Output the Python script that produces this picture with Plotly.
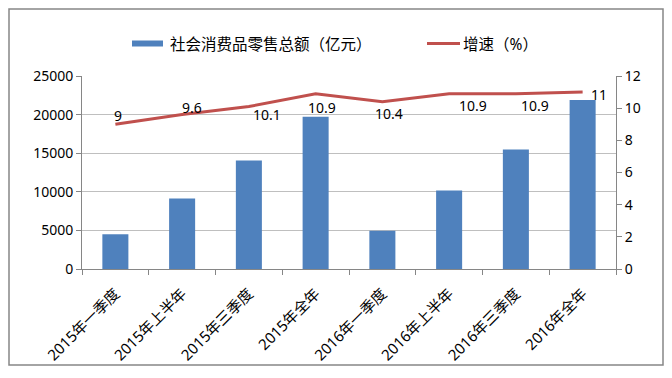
import plotly.graph_objects as go

categories = ["2015年一季度", "2015年上半年", "2015年三季度", "2015年全年",
              "2016年一季度", "2016年上半年", "2016年三季度", "2016年全年"]
sales = [4500, 9140, 14070, 19730, 4970, 10170, 15480, 21880]
growth = [9, 9.6, 10.1, 10.9, 10.4, 10.9, 10.9, 11]
left_ticks = [0, 5000, 10000, 15000, 20000, 25000]
right_ticks = [0, 2, 4, 6, 8, 10, 12]
bar_name = "社会消费品零售总额（亿元）"
line_name = "增速（%）"

# label offsets (px) relative to each point: right, down
label_dx = [3, 10, 18, 6, 7, 24, 19, 16]
label_dy = [-9, -7, 8, 14, 12, 12, 12, 2]

FONT = "Noto Sans, Noto Sans CJK SC, sans-serif"
BAR_C = "#4F81BD"
LINE_C = "#C0504D"
AX_C = "#868686"

W, H = 656, 362
L, R, T, B = 74, 48, 68, 101
pw, ph = W - L - R, H - T - B

def px(x):
    return (x - L) / pw

def py(y):
    return (H - B - y) / ph

fig = go.Figure()
fig.add_trace(go.Bar(x=categories, y=sales, name=bar_name, showlegend=False,
                     marker=dict(color=BAR_C, line=dict(width=0))))
fig.add_trace(go.Scatter(x=categories, y=growth, name=line_name, yaxis="y2",
                         mode="lines", showlegend=False,
                         line=dict(color=LINE_C, width=3)))

annotations = []
for c, g, dx, dy in zip(categories, growth, label_dx, label_dy):
    annotations.append(dict(x=c, y=g, xref="x", yref="y2", text=str(g), showarrow=False,
                            xshift=dx, yshift=-dy, xanchor="center", yanchor="middle",
                            font=dict(size=14, family=FONT, color="#000000")))
# manual legend text
annotations.append(dict(x=px(160), y=py(36), xref="paper", yref="paper", text=bar_name,
                        showarrow=False, xanchor="left", yanchor="middle",
                        font=dict(size=15.5, family=FONT, color="#000000")))
annotations.append(dict(x=px(453), y=py(36), xref="paper", yref="paper", text=line_name,
                        showarrow=False, xanchor="left", yanchor="middle",
                        font=dict(size=15.5, family=FONT, color="#000000")))

shapes = [
    dict(type="rect", xref="paper", yref="paper",
         x0=px(1), x1=px(655), y0=py(357), y1=py(1),
         line=dict(color=AX_C, width=1.5), fillcolor="rgba(0,0,0,0)", layer="below"),
    dict(type="rect", xref="paper", yref="paper",
         x0=px(124), x1=px(155), y0=py(38.5), y1=py(32.5),
         line=dict(width=0), fillcolor=BAR_C),
    dict(type="line", xref="paper", yref="paper",
         x0=px(419), x1=px(452), y0=py(35.5), y1=py(35.5),
         line=dict(color=LINE_C, width=3)),
]

fig.update_layout(
    width=W, height=H,
    margin=dict(l=L, r=R, t=T, b=B, autoexpand=False),
    paper_bgcolor="white", plot_bgcolor="white",
    font=dict(family=FONT, size=14, color="#000000"),
    bargap=0.61,
    showlegend=False,
    annotations=annotations,
    shapes=shapes,
    xaxis=dict(tickangle=-45, showline=True, linecolor=AX_C, linewidth=1,
               ticks="outside", ticklen=5, tickcolor=AX_C, tickson="boundaries",
               ticklabelstandoff=9, automargin=False,
               tickfont=dict(size=15, family=FONT), showgrid=False),
    yaxis=dict(range=[0, 25000], tickvals=left_ticks, ticktext=[str(v) for v in left_ticks],
               showline=True, linecolor=AX_C, ticks="outside", ticklen=5, tickcolor=AX_C,
               showgrid=True, gridcolor="#BFBFBF", gridwidth=1, zeroline=False,
               automargin=False, tickfont=dict(size=14, family=FONT)),
    yaxis2=dict(range=[0, 12], tickvals=right_ticks, ticktext=[str(v) for v in right_ticks],
                overlaying="y", side="right",
                showline=True, linecolor=AX_C, ticks="outside", ticklen=5,
                tickcolor=AX_C, showgrid=False, zeroline=False,
                automargin=False, tickfont=dict(size=14, family=FONT)),
)

fig.write_html("out.html")
